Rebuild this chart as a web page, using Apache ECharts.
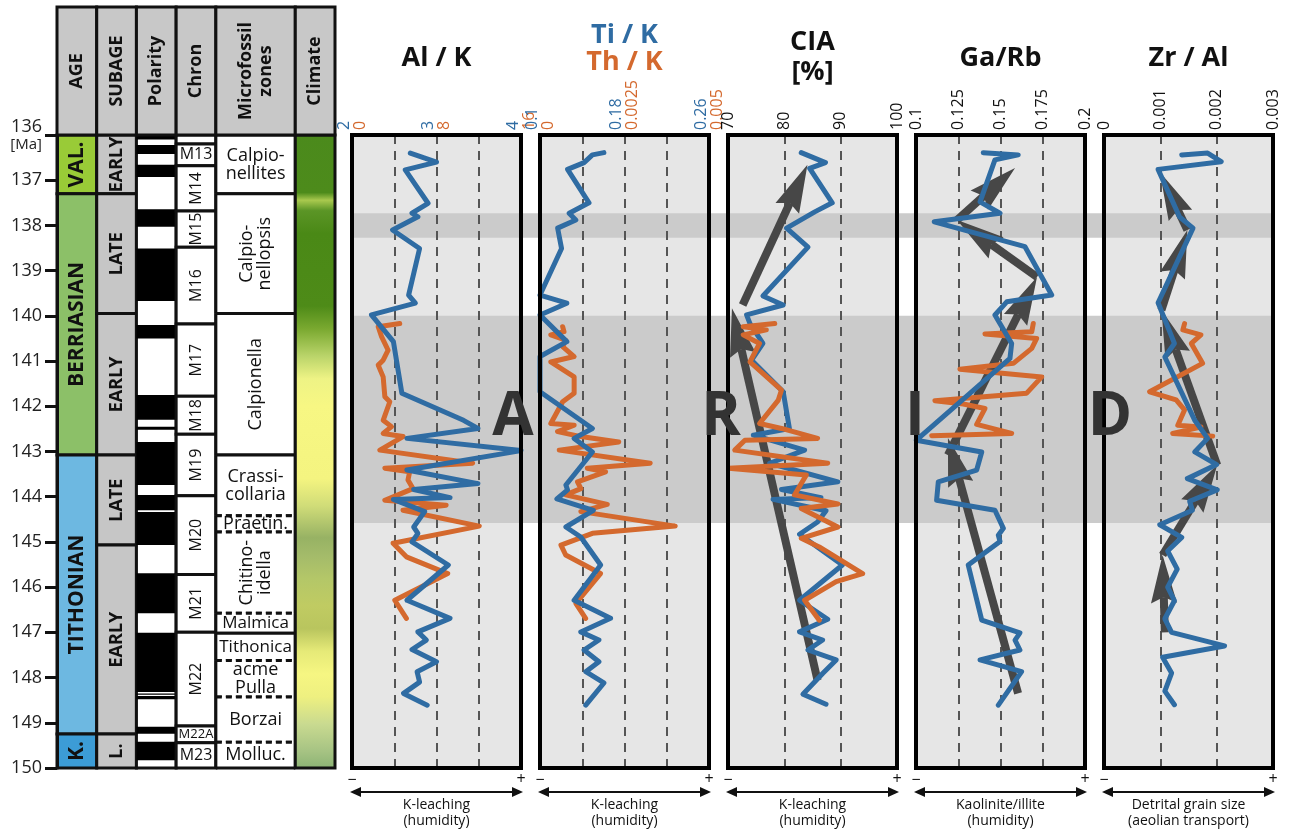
<!DOCTYPE html>
<html>
<head>
<meta charset="utf-8">
<script src="https://cdn.jsdelivr.net/npm/echarts@6/dist/echarts.min.js"></script>
<style>
html,body{margin:0;padding:0;background:#ffffff;}
#chart{width:1290px;height:834px;}
</style>
</head>
<body>
<div id="chart"></div>
<script>
// ================= DATA =================
const AGE_MIN = 136, AGE_MAX = 150;

const stageNames = ['VAL.', 'BERRIASIAN', 'TITHONIAN', 'K.'];
const stageBounds = [136, 137.3, 143.08, 149.25, 150];

const subageNames = ['EARLY', 'LATE', 'EARLY', 'LATE', 'EARLY', 'L.'];
const subageBounds = [136, 137.3, 139.95, 143.08, 145.07, 149.25, 150];

// reversed-polarity (black) intervals, Ma
const polarityBlack = [
  [136.0, 136.1], [136.22, 136.42], [136.66, 136.93], [137.64, 138.03], [138.51, 139.67],
  [140.2, 140.5], [141.75, 142.3], [142.45, 142.52], [142.79, 143.74], [143.96, 144.3],
  [144.34, 145.07], [145.69, 146.58], [147.01, 148.32], [148.35, 148.38], [148.41, 148.48],
  [149.09, 149.24], [149.42, 149.83]
];

const chronNames = ['', 'M13', 'M14', 'M15', 'M16', 'M17', 'M18', 'M19', 'M20', 'M21', 'M22', 'M22A', 'M23'];
const chronBounds = [136, 136.2, 136.68, 137.68, 138.48, 140.18, 141.78, 142.62, 143.98, 145.72, 147.0, 149.07, 149.44, 150];

const zoneNames = ['Calpio-\nnellites', 'Calpio-\nnellopsis', 'Calpionella', 'Crassi-\ncollaria', 'Praetin.',
  'Chitino-\nidella', 'Malmica', 'Tithonica', 'acme\nPulla', 'Borzai', 'Molluc.'];
const zoneBounds = [136, 137.3, 139.95, 143.08, 144.42, 144.78, 146.58, 147.02, 147.62, 148.43, 149.43, 150];
const uncertainZoneBounds = [144.42, 144.78, 146.58, 147.62, 148.43, 149.43];

const climateStops = [
  [136.0, '#4b8a1c'], [137.3, '#4d8b1b'], [137.47, '#a9c94e'], [137.7, '#5b9526'], [138.2, '#4a8916'],
  [139.8, '#4e8b18'], [140.3, '#7aa930'], [140.9, '#bad46a'], [141.4, '#eef385'], [142.0, '#f7f783'],
  [143.6, '#f4f480'], [144.2, '#d0dc78'], [144.9, '#97b264'], [145.3, '#a4bb6a'], [145.8, '#b4c768'],
  [146.4, '#c0cb62'], [146.9, '#b9c55e'], [147.4, '#e6ea78'], [147.9, '#f6f682'], [148.4, '#eef080'],
  [149.0, '#c9da90'], [149.6, '#a6c383'], [150.0, '#8ab273']
];

const shadedIntervals = [[137.73, 138.27], [140.0, 144.58]];

const yTicks = [136, 137, 138, 139, 140, 141, 142, 143, 144, 145, 146, 147, 148, 149, 150];

// ---- geochemical series: [age Ma, value] ----
const alK_blue = [
  [136.40, 2.69], [136.60, 3.00], [136.77, 2.63], [137.51, 2.90], [137.73, 2.71], [137.81, 2.78],
  [138.10, 2.48], [138.51, 2.80], [139.54, 2.67], [139.72, 2.75], [139.98, 2.23], [140.57, 2.49],
  [141.71, 2.59], [142.31, 3.32], [142.49, 3.49], [142.71, 2.65], [142.98, 4.00], [143.41, 2.65],
  [143.71, 3.49], [143.84, 2.73], [144.02, 3.16], [144.06, 2.49], [144.33, 2.86], [144.67, 2.73],
  [144.81, 2.78], [145.00, 2.71], [145.51, 3.14], [146.29, 2.65], [146.69, 3.16], [146.99, 2.78],
  [147.17, 2.88], [147.38, 2.71], [147.65, 3.00], [147.87, 2.77], [148.10, 2.80], [148.35, 2.61],
  [148.61, 2.89]
];
const alK_orange = [
  [140.17, 4.52], [140.24, 2.48], [140.46, 2.80], [140.76, 3.42], [140.98, 2.95], [141.09, 2.48],
  [141.35, 2.95], [141.79, 3.11], [141.90, 3.58], [142.31, 2.95], [142.45, 3.74], [142.60, 2.95],
  [142.67, 4.83], [142.97, 2.64], [143.26, 11.42], [143.37, 3.11], [143.45, 5.46], [143.63, 5.30],
  [143.82, 5.77], [144.08, 3.11], [144.19, 8.91], [144.30, 4.83], [144.65, 12.05], [145.03, 3.89],
  [145.33, 5.15], [145.70, 9.06], [146.29, 4.05], [146.69, 5.15]
];
const tiK = [
  [136.39, 0.1605], [136.44, 0.1496], [136.61, 0.1417], [136.76, 0.1261], [137.50, 0.1464], [137.73, 0.1276],
  [137.88, 0.1339], [138.06, 0.1167], [138.51, 0.1204], [139.54, 0.1], [139.72, 0.1254], [139.98, 0.1],
  [140.57, 0.1254], [140.90, 0.1], [141.68, 0.1], [142.49, 0.1496], [142.71, 0.1323], [143.01, 0.1496],
  [143.74, 0.1245], [143.85, 0.1261], [144.05, 0.1160], [144.30, 0.1505], [144.67, 0.1245], [144.89, 0.1386],
  [145.51, 0.1574], [146.29, 0.1323], [146.69, 0.1668], [146.99, 0.1386], [147.17, 0.1558], [147.39, 0.1417],
  [147.65, 0.1558], [147.87, 0.1433], [148.12, 0.1605], [148.61, 0.1433]
];
const thK = [
  [140.24, 0.00067], [140.35, 0.00071], [140.42, 0.00032], [140.54, 0.00076], [140.68, 0.00067],
  [140.90, 0.00101], [141.02, 0.00032], [141.35, 0.00101], [141.71, 0.00101], [141.90, 0.00067],
  [142.38, 0.00032], [142.42, 0.00101], [142.56, 0.00052], [142.67, 0.00121], [142.79, 0.00233],
  [142.97, 0.00057], [143.26, 0.00326], [143.37, 0.00140], [143.45, 0.00194], [143.67, 0.00111],
  [143.82, 0.00121], [143.96, 0.00076], [144.17, 0.00199], [144.33, 0.00121], [144.65, 0.00400],
  [144.81, 0.00155], [145.07, 0.00062], [145.29, 0.00076], [145.70, 0.00179], [146.36, 0.00106],
  [146.69, 0.00135]
];
const cia_blue = [
  [136.39, 83.0], [136.61, 87.3], [136.74, 84.5], [137.50, 88.5], [137.70, 85.4], [138.06, 80.4],
  [138.48, 84.2], [139.56, 76.2], [139.76, 79.8], [139.98, 73.3], [140.17, 73.9], [140.61, 76.2],
  [140.98, 74.2], [141.68, 79.8], [142.49, 80.9], [142.64, 74.5], [142.97, 83.6], [143.26, 77.4],
  [143.67, 89.5], [143.84, 79.5], [144.02, 86.5], [144.06, 78.0], [144.31, 87.4], [144.56, 85.9],
  [144.83, 82.7], [145.51, 90.3], [146.29, 82.7], [146.71, 87.7], [146.99, 82.7], [147.17, 86.8],
  [147.39, 84.2], [147.61, 89.2], [147.91, 86.8], [148.37, 83.3], [148.59, 87.4]
];
const cia_orange = [
  [140.17, 78.3], [140.24, 72.7], [140.31, 76.8], [140.42, 72.7], [140.61, 75.6], [141.02, 73.9],
  [141.64, 79.5], [141.87, 78.9], [142.38, 75.6], [142.49, 79.5], [142.71, 85.9], [142.75, 73.0],
  [142.97, 71.2], [143.26, 87.7], [143.37, 70.1], [143.52, 83.9], [143.96, 81.8], [144.16, 89.5],
  [144.26, 83.0], [144.67, 89.5], [144.92, 83.0], [145.11, 86.2], [145.70, 93.9], [145.88, 89.2],
  [146.29, 83.6], [146.73, 86.2]
];
const gaRb_blue = [
  [136.39, 0.1398], [136.44, 0.1605], [136.55, 0.1467], [137.48, 0.1379], [137.73, 0.1497], [137.92, 0.1108],
  [138.47, 0.1645], [139.54, 0.1803], [139.69, 0.1537], [139.98, 0.1467], [140.61, 0.1566], [140.94, 0.1556],
  [142.75, 0.1002], [143.01, 0.1389], [143.41, 0.1359], [143.67, 0.1132], [144.08, 0.1122], [144.30, 0.1467],
  [144.70, 0.1517], [144.85, 0.1487], [144.99, 0.1497], [145.51, 0.1309], [146.73, 0.1389], [147.01, 0.1615],
  [147.17, 0.1586], [147.39, 0.1615], [147.61, 0.1379], [147.87, 0.1625], [148.61, 0.1487]
];
const gaRb_orange = [
  [140.17, 0.1694], [140.35, 0.1685], [140.40, 0.1408], [140.50, 0.1714], [140.72, 0.1685], [141.05, 0.1576],
  [141.18, 0.1260], [141.35, 0.1744], [141.71, 0.1655], [141.88, 0.1112], [141.95, 0.1280], [142.05, 0.1408],
  [142.40, 0.1359], [142.60, 0.1566], [142.65, 0.1093]
];
const zrAl_blue = [
  [136.44, 0.00138], [136.40, 0.00184], [136.59, 0.00208], [136.76, 0.00096], [137.81, 0.00134],
  [138.06, 0.00158], [139.71, 0.00096], [140.61, 0.00125], [140.91, 0.00108], [142.31, 0.00161],
  [142.71, 0.00184], [143.01, 0.00161], [143.29, 0.00200], [143.60, 0.00148], [143.85, 0.00201],
  [144.10, 0.00152], [144.30, 0.00157], [144.62, 0.00099], [144.90, 0.00138], [145.20, 0.00113],
  [145.60, 0.00130], [146.00, 0.00113], [146.30, 0.00125], [146.70, 0.00108], [147.00, 0.00120],
  [147.30, 0.00214], [147.55, 0.00104], [147.90, 0.00120], [148.30, 0.00108], [148.60, 0.00125]
];
const zrAl_orange = [
  [140.17, 0.00143], [140.31, 0.00140], [140.42, 0.00172], [140.61, 0.00155], [141.05, 0.00175],
  [141.68, 0.00081], [141.86, 0.00128], [142.08, 0.00143], [142.42, 0.00131], [142.46, 0.00172],
  [142.60, 0.00122], [142.66, 0.00193]
];

// ---- trend arrows: [valueFrom, ageFrom, valueTo, ageTo] ----
const ciaArrows = [[72.6, 139.76, 84.1, 136.66], [85.9, 148.06, 70.7, 139.83]];
const gaRbArrows = [
  [0.1604, 148.35, 0.1189, 142.70], [0.1189, 143.08, 0.1716, 139.14],
  [0.1716, 139.14, 0.1243, 137.88], [0.1243, 137.88, 0.1586, 136.73]
];
const zrAlArrows = [
  [0.00108, 147.0, 0.00104, 145.29], [0.00104, 145.29, 0.00201, 143.30],
  [0.00201, 143.30, 0.00102, 139.87], [0.00102, 139.87, 0.00148, 138.10],
  [0.00148, 138.10, 0.00099, 136.82]
];

// ================= STYLE / LAYOUT =================
const FONT = '"Open Sans", "Noto Sans", "DejaVu Sans", sans-serif';
const BLUE = '#2f6ca3', ORANGE = '#d4692e', ARROW_C = '#474747', INK = '#111111';
const STRAT_LEFT = 57, STRAT_W = 278, NCOLS = 7;
const PLOT_TOP = 135, PLOT_H = 633, HEAD_TOP = 7;
const PANEL_LEFTS = [352, 540, 728, 916, 1104], PANEL_W = 169;
const colUnits = {age: [0, 1], subage: [1, 2], pol: [2, 3], chron: [3, 4], zone: [4, 6], climate: [6, 7]};
const STAGE_COLORS = {'VAL.': '#99cb37', 'BERRIASIAN': '#8cc068', 'TITHONIAN': '#6db8e1', 'K.': '#3c9cd6'};

const chart = echarts.init(document.getElementById('chart'), null, {renderer: 'canvas', width: 1290, height: 834});

// ---- build strat-column cells ----
const cells = [];
stageNames.forEach((n, i) => cells.push({kind: 'box', col: 'age', a0: stageBounds[i], a1: stageBounds[i + 1],
  fill: STAGE_COLORS[n], label: n, rot: true, font: `bold 21px ${FONT}`}));
subageNames.forEach((n, i) => cells.push({kind: 'box', col: 'subage', a0: subageBounds[i], a1: subageBounds[i + 1],
  fill: '#c6c6c6', label: n, rot: true, font: `bold 18px ${FONT}`}));
cells.push({kind: 'box', col: 'pol', a0: AGE_MIN, a1: AGE_MAX, fill: '#ffffff'});
polarityBlack.forEach(([a0, a1]) => cells.push({kind: 'pol', col: 'pol', a0, a1}));
chronNames.forEach((n, i) => {
  const horiz = ['', 'M13', 'M22A', 'M23'].includes(n);
  const size = n === 'M22A' ? 13 : 16;
  cells.push({kind: 'box', col: 'chron', a0: chronBounds[i], a1: chronBounds[i + 1], fill: '#ffffff',
    label: n, rot: !horiz, font: `${size}px ${FONT}`});
});
const rotatedZones = ['Calpio-\nnellopsis', 'Calpionella', 'Chitino-\nidella'];
zoneNames.forEach((n, i) => {
  const a0 = zoneBounds[i], a1 = zoneBounds[i + 1];
  const size = (n === 'Tithonica' || n === 'Malmica') ? 17 : 18;
  cells.push({kind: 'zone', col: 'zone', a0, a1, label: n, rot: rotatedZones.includes(n),
    font: `${size}px ${FONT}`, lh: 18,
    dashTop: uncertainZoneBounds.includes(a0), dashBottom: uncertainZoneBounds.includes(a1)});
});
cells.push({kind: 'climate', col: 'climate', a0: AGE_MIN, a1: AGE_MAX});

const climateGradient = new echarts.graphic.LinearGradient(0, 0, 0, 1,
  climateStops.map(([a, c]) => ({offset: (a - AGE_MIN) / (AGE_MAX - AGE_MIN), color: c})));

function seg(x1, y1, x2, y2, dashed) {
  return {type: 'line', shape: {x1, y1, x2, y2},
    style: {stroke: INK, lineWidth: 3, lineDash: dashed ? [6, 4] : null}};
}

function renderCell(params, api) {
  const c = cells[params.dataIndex];
  const p0 = api.coord([api.value(0), api.value(2)]);
  const p1 = api.coord([api.value(1), api.value(3)]);
  const x = p0[0], y = p0[1], w = p1[0] - p0[0], h = p1[1] - p0[1];
  const ch = [];
  if (c.kind === 'zone') {
    ch.push({type: 'rect', shape: {x, y, width: w, height: h}, style: {fill: '#ffffff'}});
    ch.push(seg(x, y, x, y + h, false), seg(x + w, y, x + w, y + h, false));
    ch.push(seg(x, y, x + w, y, c.dashTop), seg(x, y + h, x + w, y + h, c.dashBottom));
  } else if (c.kind === 'pol') {
    ch.push({type: 'rect', shape: {x, y, width: w, height: h}, style: {fill: '#000000'}});
  } else if (c.kind === 'climate') {
    ch.push({type: 'rect', shape: {x, y, width: w, height: h}, style: {fill: climateGradient, stroke: INK, lineWidth: 3}});
  } else {
    ch.push({type: 'rect', shape: {x, y, width: w, height: h}, style: {fill: c.fill, stroke: INK, lineWidth: 3}});
  }
  if (c.label) {
    ch.push({type: 'text', x: x + w / 2, y: y + h / 2, rotation: c.rot ? Math.PI / 2 : 0,
      style: {text: c.label, align: 'center', verticalAlign: 'middle', font: c.font, fill: INK, lineHeight: c.lh || 20}});
  }
  return {type: 'group', children: ch};
}

function renderArrow(params, api) {
  const p1 = api.coord([api.value(0), api.value(1)]);
  const p2 = api.coord([api.value(2), api.value(3)]);
  const dx = p2[0] - p1[0], dy = p2[1] - p1[1], L = Math.hypot(dx, dy) || 1;
  const ux = dx / L, uy = dy / L, nx = -uy, ny = ux;
  const hl = 48, hw = 13, notch = 42;
  const bx = p2[0] - ux * hl, by = p2[1] - uy * hl;
  const sx = p2[0] - ux * notch, sy = p2[1] - uy * notch;
  return {type: 'group', children: [
    {type: 'line', shape: {x1: p1[0], y1: p1[1], x2: sx, y2: sy}, style: {stroke: ARROW_C, lineWidth: 8}},
    {type: 'polygon', shape: {points: [[p2[0], p2[1]], [bx + nx * hw, by + ny * hw], [sx, sy], [bx - nx * hw, by - ny * hw]]},
      style: {fill: ARROW_C}}
  ]};
}

const fmt = v => String(parseFloat(Number(v).toPrecision(6)));
const isInt = v => Math.abs(v - Math.round(v)) < 1e-9;

// ---- panels ----
const panels = [
  {titles: [['Al / K', INK, 58]], foot: ['K-leaching', '(humidity)'],
    axes: [
      {min: 2, max: 4, interval: 0.5, color: BLUE, va: 'bottom', show: (v) => isInt(v), split: true},
      {min: 0, max: 16, interval: 4, color: ORANGE, va: 'top', show: (v, i) => i % 2 === 0, split: false}],
    lines: [[alK_orange, ORANGE, 1], [alK_blue, BLUE, 0]], arrows: []},
  {titles: [['Ti / K', BLUE, 35], ['Th / K', ORANGE, 62]], foot: ['K-leaching', '(humidity)'],
    axes: [
      {min: 0.1, max: 0.26, interval: 0.02, color: BLUE, va: 'bottom', show: (v, i) => i % 4 === 0, split: false},
      {min: 0, max: 0.005, interval: 0.00125, color: ORANGE, va: 'top', show: (v, i) => i % 2 === 0, split: true}],
    lines: [[thK, ORANGE, 1], [tiK, BLUE, 0]], arrows: []},
  {titles: [['CIA', INK, 42], ['[%]', INK, 72]], foot: ['K-leaching', '(humidity)'],
    axes: [{min: 70, max: 100, interval: 10, color: INK, va: 'middle', show: () => true, split: true}],
    lines: [[cia_blue, BLUE, 0], [cia_orange, ORANGE, 0]], arrows: ciaArrows},
  {titles: [['Ga/Rb', INK, 58]], foot: ['Kaolinite/illite', '(humidity)'],
    axes: [{min: 0.1, max: 0.2, interval: 0.025, color: INK, va: 'middle', show: () => true, split: true}],
    lines: [[gaRb_orange, ORANGE, 0], [gaRb_blue, BLUE, 0]], arrows: gaRbArrows},
  {titles: [['Zr / Al', INK, 58]], foot: ['Detrital grain size', '(aeolian transport)'],
    axes: [{min: 0, max: 0.003, interval: 0.001, color: INK, va: 'middle', show: () => true, split: true}],
    lines: [[zrAl_orange, ORANGE, 0], [zrAl_blue, BLUE, 0]], arrows: zrAlArrows}
];

const grids = [{left: STRAT_LEFT, top: PLOT_TOP, width: STRAT_W, height: PLOT_H, show: false}];
const xAxes = [{gridIndex: 0, type: 'value', min: 0, max: NCOLS, show: false}];
const yAxes = [{
  gridIndex: 0, type: 'value', min: AGE_MIN, max: AGE_MAX, interval: 1, inverse: true, z: 3,
  axisLine: {show: true, lineStyle: {color: INK, width: 3}},
  axisTick: {show: true, length: 12, lineStyle: {color: INK, width: 3}},
  splitLine: {show: false},
  axisLabel: {margin: 15, fontSize: 18, color: '#222', fontFamily: FONT,
    formatter: v => (v === AGE_MIN ? '{a|' + v + '}\n{b|[Ma]}' : String(v)),
    rich: {a: {fontSize: 18, fontFamily: FONT, color: '#222', lineHeight: 20},
           b: {fontSize: 15, fontFamily: FONT, color: '#222', lineHeight: 16}}}
}];
const series = [{
  type: 'custom', xAxisIndex: 0, yAxisIndex: 0, z: 2, renderItem: renderCell,
  encode: {x: [0, 1], y: [2, 3]},
  data: cells.map(c => [colUnits[c.col][0], colUnits[c.col][1], c.a0, c.a1])
}];
const graphics = [];

panels.forEach((p, k) => {
  const gi = grids.length;
  const left = PANEL_LEFTS[k];
  grids.push({left, top: PLOT_TOP, width: PANEL_W, height: PLOT_H, show: true,
    backgroundColor: 'transparent', borderColor: '#000', borderWidth: 4, z: 10});
  yAxes.push({gridIndex: gi, type: 'value', min: AGE_MIN, max: AGE_MAX, inverse: true, show: false});
  const yi = yAxes.length - 1;
  const axisIdx = p.axes.map(a => {
    xAxes.push({
      gridIndex: gi, type: 'value', position: 'top', min: a.min, max: a.max, interval: a.interval, z: 3,
      axisLine: {show: false}, axisTick: {show: false},
      splitLine: {show: a.split, lineStyle: {color: '#555', width: 2, type: [9, 7]}},
      axisLabel: {show: true, rotate: -90, margin: 5, fontSize: 16, fontFamily: FONT, color: a.color,
        align: 'left', verticalAlign: a.va, formatter: (v, i) => (a.show(v, i) ? fmt(v) : '')}
    });
    return xAxes.length - 1;
  });
  // panel background
  series.push({type: 'custom', xAxisIndex: axisIdx[0], yAxisIndex: yi, z: 1, silent: true,
    data: [[p.axes[0].min, AGE_MIN]],
    renderItem: (params) => ({type: 'rect', shape: {x: params.coordSys.x, y: params.coordSys.y,
      width: params.coordSys.width, height: params.coordSys.height}, style: {fill: '#e6e6e6'}})});
  if (p.arrows.length) {
    series.push({type: 'custom', xAxisIndex: axisIdx[0], yAxisIndex: yi, z: 4, renderItem: renderArrow,
      encode: {x: [0, 2], y: [1, 3]}, data: p.arrows});
  }
  p.lines.forEach(([arr, color, ai]) => {
    series.push({type: 'line', xAxisIndex: axisIdx[ai], yAxisIndex: yi, z: 5, showSymbol: false, symbol: 'none',
      animation: false,
      lineStyle: {color, width: 5, cap: 'round', join: 'round'}, itemStyle: {color},
      data: arr.map(([age, v]) => [v, age])});
  });
  // titles
  const cx = left + PANEL_W / 2;
  p.titles.forEach(([t, col, y]) => graphics.push({type: 'text', x: cx, y, z: 20,
    style: {text: t, font: `bold 27px ${FONT}`, fill: col, align: 'center', verticalAlign: 'middle'}}));
  // foot annotations
  const yb = 792;
  graphics.push({type: 'text', x: left, y: 780, z: 20, style: {text: '\u2212', font: `16px ${FONT}`, fill: INK, align: 'center', verticalAlign: 'middle'}});
  graphics.push({type: 'text', x: left + PANEL_W, y: 779, z: 20, style: {text: '+', font: `16px ${FONT}`, fill: INK, align: 'center', verticalAlign: 'middle'}});
  graphics.push({type: 'line', z: 20, shape: {x1: left + 4, y1: yb, x2: left + PANEL_W - 4, y2: yb}, style: {stroke: INK, lineWidth: 2}});
  graphics.push({type: 'polygon', z: 20, shape: {points: [[left - 2, yb], [left + 9, yb - 5], [left + 9, yb + 5]]}, style: {fill: INK}});
  graphics.push({type: 'polygon', z: 20, shape: {points: [[left + PANEL_W + 2, yb], [left + PANEL_W - 9, yb - 5], [left + PANEL_W - 9, yb + 5]]}, style: {fill: INK}});
  graphics.push({type: 'text', x: cx, y: 805, z: 20, style: {text: p.foot[0], font: `14px ${FONT}`, fill: INK, align: 'center', verticalAlign: 'middle'}});
  graphics.push({type: 'text', x: cx, y: 821, z: 20, style: {text: p.foot[1], font: `14px ${FONT}`, fill: INK, align: 'center', verticalAlign: 'middle'}});
});

// shaded bands spanning all panels
const bandGrid = grids.length;
grids.push({left: PANEL_LEFTS[0], top: PLOT_TOP, width: PANEL_LEFTS[4] + PANEL_W - PANEL_LEFTS[0], height: PLOT_H, show: false});
xAxes.push({gridIndex: bandGrid, type: 'value', min: 0, max: 1, show: false});
yAxes.push({gridIndex: bandGrid, type: 'value', min: AGE_MIN, max: AGE_MAX, inverse: true, show: false});
series.push({type: 'custom', xAxisIndex: xAxes.length - 1, yAxisIndex: yAxes.length - 1, z: 2, silent: true,
  encode: {x: [0, 2], y: [1, 3]},
  data: shadedIntervals.map(([a0, a1]) => [0, a0, 1, a1]),
  renderItem: (params, api) => {
    const p0 = api.coord([api.value(0), api.value(1)]);
    const p1 = api.coord([api.value(2), api.value(3)]);
    return {type: 'rect', shape: {x: p0[0], y: p0[1], width: p1[0] - p0[0], height: p1[1] - p0[1]}, style: {fill: '#cbcbcb'}};
  }});

// header cells of strat column
const headers = [['AGE', 'age'], ['SUBAGE', 'subage'], ['Polarity', 'pol'], ['Chron', 'chron'], ['Microfossil\nzones', 'zone'], ['Climate', 'climate']];
const unitW = STRAT_W / NCOLS;
headers.forEach(([t, col]) => {
  const x0 = STRAT_LEFT + colUnits[col][0] * unitW, x1 = STRAT_LEFT + colUnits[col][1] * unitW;
  graphics.push({type: 'rect', z: 20, shape: {x: x0, y: HEAD_TOP, width: x1 - x0, height: PLOT_TOP - HEAD_TOP},
    style: {fill: '#c8c8c8', stroke: INK, lineWidth: 3}});
  graphics.push({type: 'text', z: 21, x: (x0 + x1) / 2, y: (HEAD_TOP + PLOT_TOP) / 2, rotation: Math.PI / 2,
    style: {text: t, font: `bold 18px ${FONT}`, fill: INK, align: 'center', verticalAlign: 'middle', lineHeight: 20}});
});

// big letters
[['A', 513], ['R', 721], ['I', 915], ['D', 1110]].forEach(([t, x]) => graphics.push({type: 'text', z: 30, x, y: 418,
  style: {text: t, font: `bold 60px ${FONT}`, fill: '#333333', align: 'center', verticalAlign: 'middle'}}));

chart.setOption({
  animation: false,
  grid: grids,
  xAxis: xAxes,
  yAxis: yAxes,
  series: series,
  graphic: {elements: graphics}
});
</script>
</body>
</html>
